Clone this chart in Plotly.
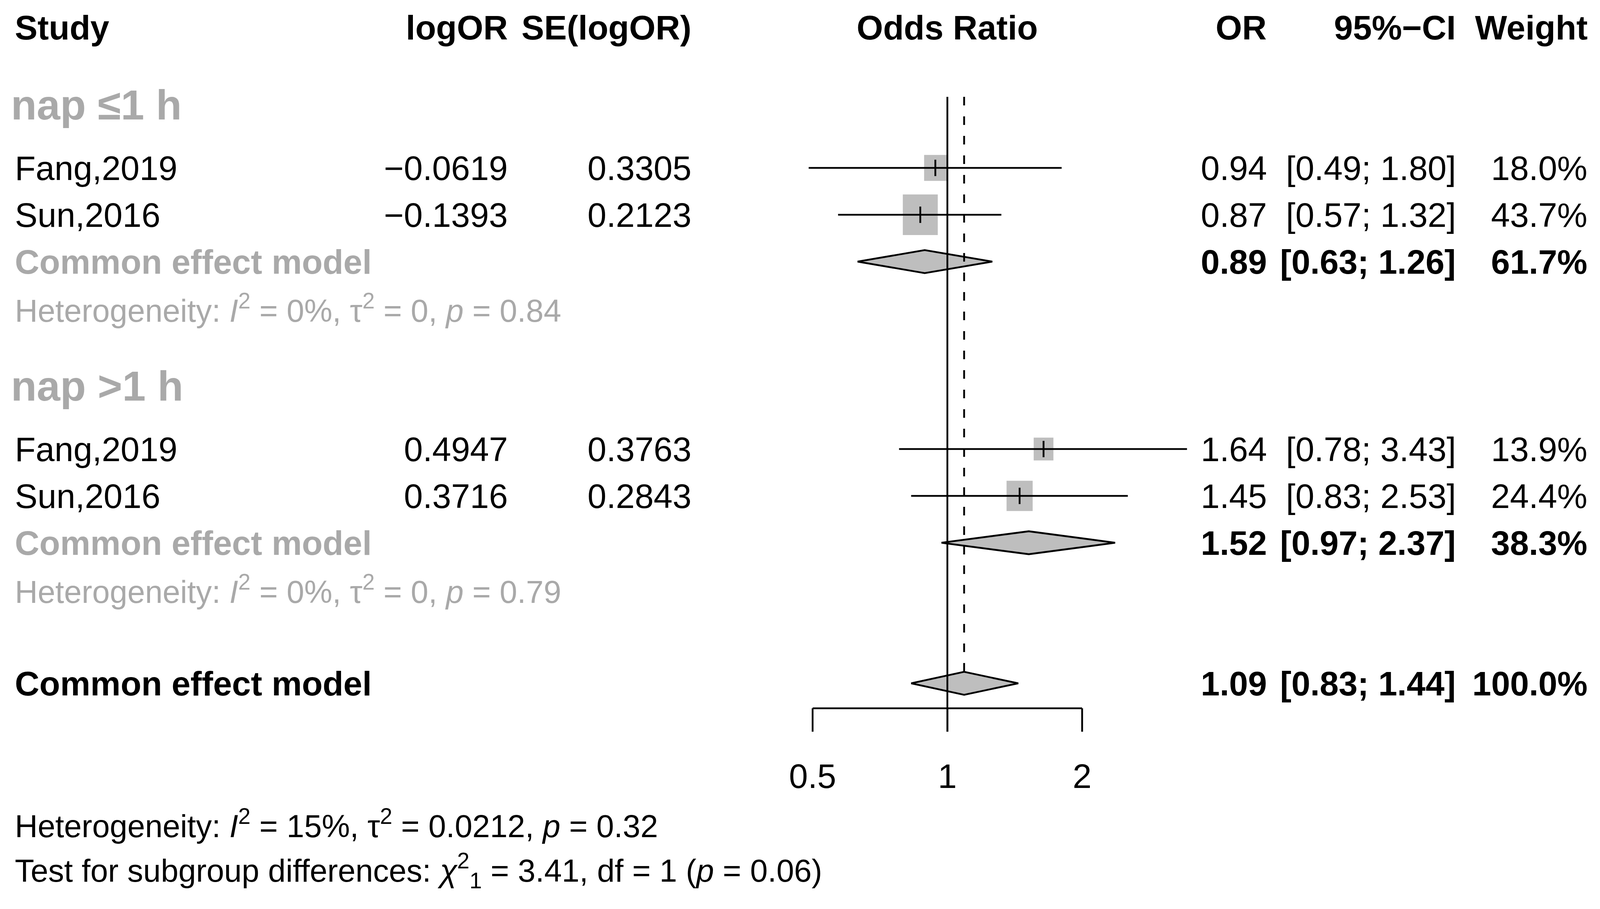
import numpy as np
import plotly.graph_objects as go

# the browser page comes out about 4095 css px wide and 2328 high, so the
# reference geometry (4748 x 2328) is squeezed in x only
PAGE_W, PAGE_H = 4095, 2328
OFF = 8                       # body margin of the html page
W = PAGE_W - 2 * OFF - 3
H = PAGE_H - 2 * OFF - 2
SX = PAGE_W / 4748
FONT = "Liberation Sans, Arial, sans-serif"
GREY_TXT = "#A9A9A9"
GREY_BOX = "#BEBEBE"

# study level data
studies = ["Fang,2019", "Sun,2016", "Fang,2019", "Sun,2016"]
study_rows = [3, 4, 9, 10]
log_or = [-0.0619, -0.1393, 0.4947, 0.3716]
se_log_or = [0.3305, 0.2123, 0.3763, 0.2843]
odds = [0.94, 0.87, 1.64, 1.45]
ci_lo = [0.49, 0.57, 0.78, 0.83]
ci_hi = [1.80, 1.32, 3.43, 2.53]
weights = [18.0, 43.7, 13.9, 24.4]

# subgroups
sub_labels = ["nap ≤1 h", "nap >1 h"]
sub_label_rows = [1.65, 7.65]
sub_rows = [5, 11]
sub_or = [0.89, 1.52]
sub_lo = [0.63, 0.97]
sub_hi = [1.26, 2.37]
sub_w = [61.7, 38.3]
sub_het_rows = [6, 12]
sub_i2 = ["0%", "0%"]
sub_tau2 = ["0", "0"]
sub_p = ["0.84", "0.79"]

# overall
all_row = 14
all_or, all_lo, all_hi, all_w = 1.09, 0.83, 1.44, 100.0
all_i2, all_tau2, all_p = "15%", "0.0212", "0.32"
test_chi2, test_df, test_p = "3.41", "1", "0.06"

axis_ticks = [0.5, 1, 2]
axis_row, tick_len, tick_lab_row = 14.533, 0.5, 16.05

# geometry, in reference pixels
REF_X_ONE = 2812     # OR = 1
REF_LOG2 = 400       # pixels per doubling
REF_ROW0 = 70
REF_ROW_H = 120

X_ONE = REF_X_ONE * SX - OFF
PX_LOG2 = REF_LOG2 * SX
ROW0 = REF_ROW0 - OFF
ROW_H = REF_ROW_H

x_lo = np.log10(2.0) * (0 - X_ONE) / PX_LOG2
x_hi = np.log10(2.0) * (W - X_ONE) / PX_LOG2
y_top = (0 - ROW0) / ROW_H
y_bot = (H - ROW0) / ROW_H

COL_STUDY = 42
COL_LOGOR = 1510
COL_SE = 2055
COL_OR = 3763
COL_CI = 4324
COL_W = 4714

LW = 4.6
FS = 87
FS_HET = 81
FS_LAB = 108


def num(v, d=2):
    return f"{v:.{d}f}".replace("-", "\u2212")


fig = go.Figure()


def txt(s, xref_px, row, anchor="left", size=FS, bold=False, color="black"):
    fig.add_annotation(x=(xref_px * SX - OFF) / W, xref="paper", y=row, yref="y", text=s,
                       showarrow=False, xanchor=anchor, yanchor="middle",
                       font=dict(family=FONT, size=size, color=color,
                                 weight=700 if bold else 400))


# squares, side proportional to sqrt(weight), drawn in axis units
sx, sy = [], []
for o, w, r in zip(odds, weights, study_rows):
    half = 15.7 * np.sqrt(w) / 2
    a, b = o * 2 ** (-half / REF_LOG2), o * 2 ** (half / REF_LOG2)
    t, u = r - half / REF_ROW_H, r + half / REF_ROW_H
    sx += [a, b, b, a, a, None]
    sy += [t, t, u, u, t, None]
fig.add_trace(go.Scatter(x=sx, y=sy, mode="lines", fill="toself", fillcolor=GREY_BOX,
                         line=dict(width=0, color=GREY_BOX)))
# confidence intervals
cx, cy = [], []
for lo, hi, r in zip(ci_lo, ci_hi, study_rows):
    cx += [lo, hi, None]
    cy += [r, r, None]
fig.add_trace(go.Scatter(x=cx, y=cy, mode="lines", line=dict(color="black", width=LW)))
fig.add_trace(go.Scatter(x=odds, y=study_rows, mode="markers",
                         marker=dict(symbol="line-ns", size=30,
                                     line=dict(color="black", width=LW))))

# diamonds
dh = 0.245
for o, lo, hi, r in list(zip(sub_or, sub_lo, sub_hi, sub_rows)) + [(all_or, all_lo, all_hi, all_row)]:
    fig.add_trace(go.Scatter(x=[lo, o, hi, o, lo], y=[r, r - dh, r, r + dh, r],
                             mode="lines", fill="toself", fillcolor=GREY_BOX,
                             line=dict(color="black", width=LW)))

# reference lines
fig.add_trace(go.Scatter(x=[1, 1], y=[1.483, axis_row + tick_len], mode="lines",
                         line=dict(color="black", width=LW)))
fig.add_trace(go.Scatter(x=[all_or, all_or], y=[1.483, all_row - dh], mode="lines",
                         line=dict(color="black", width=LW, dash="22px,28px")))

# x axis drawn as in the reference
ax, ay = [axis_ticks[0], axis_ticks[-1], None], [axis_row, axis_row, None]
for t in axis_ticks:
    ax += [t, t, None]
    ay += [axis_row, axis_row + tick_len, None]
fig.add_trace(go.Scatter(x=ax, y=ay, mode="lines", line=dict(color="black", width=LW)))
fig.add_trace(go.Scatter(x=axis_ticks, y=[tick_lab_row] * 3, mode="text",
                         text=[f"{t:g}" for t in axis_ticks], textposition="middle center",
                         textfont=dict(family=FONT, size=FS, color="black")))

# header
txt("Study", COL_STUDY, 0, bold=True)
txt("logOR", COL_LOGOR, 0, "right", bold=True)
txt("SE(logOR)", COL_SE, 0, "right", bold=True)
fig.add_annotation(x=0, xref="x", y=0, yref="y", text="Odds Ratio", showarrow=False,
                   xanchor="center", yanchor="middle",
                   font=dict(family=FONT, size=FS, color="black", weight=700))
txt("OR", COL_OR, 0, "right", bold=True)
txt("95%\u2212CI", COL_CI, 0, "right", bold=True)
txt("Weight", COL_W, 0, "right", bold=True)

# study rows
for i, r in enumerate(study_rows):
    txt(studies[i], COL_STUDY, r)
    txt(num(log_or[i], 4), COL_LOGOR, r, "right")
    txt(num(se_log_or[i], 4), COL_SE, r, "right")
    txt(num(odds[i]), COL_OR, r, "right")
    txt(f"[{num(ci_lo[i])}; {num(ci_hi[i])}]", COL_CI, r, "right")
    txt(f"{weights[i]:.1f}%", COL_W, r, "right")

# subgroup rows
for k in range(2):
    txt(sub_labels[k], COL_STUDY - 12, sub_label_rows[k], size=FS_LAB, bold=True, color=GREY_TXT)
    r = sub_rows[k]
    txt("Common effect model", COL_STUDY, r, bold=True, color=GREY_TXT)
    txt(num(sub_or[k]), COL_OR, r, "right", bold=True)
    txt(f"[{num(sub_lo[k])}; {num(sub_hi[k])}]", COL_CI, r, "right", bold=True)
    txt(f"{sub_w[k]:.1f}%", COL_W, r, "right", bold=True)
    txt(f"Heterogeneity: <i>I</i><sup>2</sup> = {sub_i2[k]}, τ<sup>2</sup> = {sub_tau2[k]}, "
        f"<i>p</i> = {sub_p[k]}", COL_STUDY, sub_het_rows[k], size=FS_HET, color=GREY_TXT)

# overall
txt("Common effect model", COL_STUDY, all_row, bold=True)
txt(num(all_or), COL_OR, all_row, "right", bold=True)
txt(f"[{num(all_lo)}; {num(all_hi)}]", COL_CI, all_row, "right", bold=True)
txt(f"{all_w:.1f}%", COL_W, all_row, "right", bold=True)
txt(f"Heterogeneity: <i>I</i><sup>2</sup> = {all_i2}, τ<sup>2</sup> = {all_tau2}, "
    f"<i>p</i> = {all_p}", COL_STUDY, 17, size=FS_HET)
txt(f"Test for subgroup differences: <i>χ</i><sup>2</sup><sub>{test_df}</sub> = {test_chi2}, "
    f"df = {test_df} (<i>p</i> = {test_p})", COL_STUDY, 18, size=FS_HET)

fig.update_layout(width=W, height=H, margin=dict(l=0, r=0, t=0, b=0),
                  paper_bgcolor="white", plot_bgcolor="white", showlegend=False,
                  xaxis=dict(type="log", range=[x_lo, x_hi], visible=False),
                  yaxis=dict(range=[y_bot, y_top], visible=False))
fig.write_html("out.html")
